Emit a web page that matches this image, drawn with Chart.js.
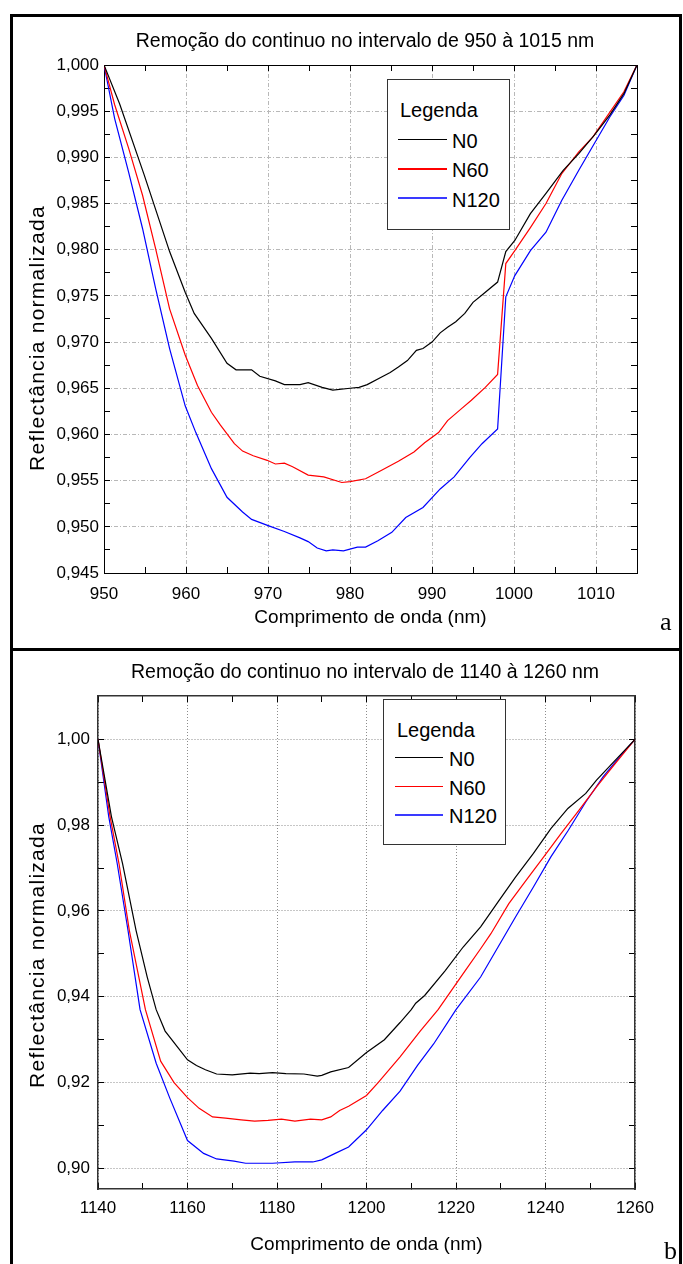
<!DOCTYPE html>
<html>
<head>
<meta charset="utf-8">
<script src="https://cdn.jsdelivr.net/npm/chart.js@4.4.1/dist/chart.umd.min.js"></script>
<style>
  html, body { margin: 0; padding: 0; background: #fff; width: 683px; height: 1264px; overflow: hidden; }
  .frame { position: absolute; border: 3px solid #000; box-sizing: border-box; }
  canvas { position: absolute; left: 0; }
  .txt { position: absolute; font-family: 'Liberation Sans', Arial, sans-serif; color: #000; white-space: nowrap; }
  .ytitle { position: absolute; font-family: 'Liberation Sans', Arial, sans-serif; font-size: 21px; line-height: 21px;
            letter-spacing: 1.25px; white-space: nowrap; transform: translate(-50%, -50%) rotate(-90deg); color: #000; }
  .panel { position: absolute; font-family: 'Liberation Serif', 'Times New Roman', serif; font-size: 26px; line-height: 26px; color: #000; }
  .legbox { position: absolute; border: 1px solid #333; box-sizing: border-box; background: #fff; }
  .legline { position: absolute; }
</style>
</head>
<body>
<div class="frame" style="left:10px; top:14px; width:672px; height:637px;"></div>
<div class="frame" style="left:10px; top:648px; width:672px; height:640px;"></div>

<canvas id="chartTop" width="683" height="651" style="top:0px; width:683px; height:651px;"></canvas>
<canvas id="chartBottom" width="683" height="613" style="top:651px; width:683px; height:613px;"></canvas>

<script>
// ---------------- DATA ----------------
const seriesNames  = ['N0', 'N60', 'N120'];
const seriesColors = ['#000000', '#ff0000', '#0000ff'];

// Chart a : 950 - 1015 nm
const topTitle  = 'Remoção do continuo no intervalo de 950 à 1015 nm';
const topWlN0   = [950, 951.9, 954.9, 958, 959.9, 961, 963.1, 965, 966.1, 968, 969, 970.9, 972, 973.9, 974.9, 976.6, 977.9, 980, 981.1, 982.1, 983.8, 984.9, 985.9, 987, 988.1, 988.9, 990, 991, 991.9, 992.9, 994, 995, 996.1, 998, 999, 1000.1, 1002, 1003.9, 1006, 1007.9, 1009.8, 1011.7, 1013.4, 1015];
const topN0     = [1.0000, 0.9958, 0.9881, 0.9798, 0.9754, 0.9731, 0.9704, 0.9677, 0.9670, 0.9670, 0.9663, 0.9658, 0.9654, 0.9654, 0.9656, 0.9651, 0.9648, 0.9650, 0.9651, 0.9654, 0.9662, 0.9667, 0.9673, 0.9680, 0.9691, 0.9693, 0.9700, 0.9710, 0.9716, 0.9722, 0.9731, 0.9743, 0.9751, 0.9765, 0.9798, 0.9810, 0.9839, 0.9861, 0.9886, 0.9904, 0.9924, 0.9946, 0.9969, 1.0000];
const topWlN60  = [950, 951.3, 953, 954.7, 956.3, 958, 959.9, 961.4, 963.1, 964.2, 965.9, 966.9, 968.2, 969.9, 970.9, 972, 973, 974.9, 976.8, 979, 980, 981.9, 983.8, 985.9, 987.8, 989.1, 990.8, 991.9, 993.6, 994.8, 996.5, 998, 999, 1000.1, 1002, 1003.9, 1005.8, 1007.9, 1009.6, 1011.7, 1013.4, 1015];
const topN60    = [1.0000, 0.9957, 0.9910, 0.9859, 0.9801, 0.9736, 0.9686, 0.9653, 0.9624, 0.9610, 0.9590, 0.9582, 0.9577, 0.9572, 0.9568, 0.9569, 0.9565, 0.9556, 0.9554, 0.9548, 0.9549, 0.9552, 0.9561, 0.9571, 0.9581, 0.9591, 0.9602, 0.9615, 0.9628, 0.9637, 0.9651, 0.9665, 0.9785, 0.9799, 0.9824, 0.9850, 0.9882, 0.9906, 0.9922, 0.9949, 0.9971, 1.0000];
const topWlN120 = [950, 951.3, 953, 954.7, 956.3, 958, 959.9, 961.2, 963.1, 965, 966.9, 968, 970.1, 972, 973.9, 974.9, 976, 977.1, 977.9, 979.2, 980.9, 981.9, 983.4, 985.1, 986.8, 988.9, 991, 992.7, 994.6, 996.1, 998, 999, 1000.1, 1002, 1003.9, 1005.8, 1007.9, 1009.8, 1011.7, 1013.4, 1015];
const topN120   = [1.0000, 0.9942, 0.9884, 0.9823, 0.9758, 0.9693, 0.9631, 0.9602, 0.9563, 0.9532, 0.9516, 0.9508, 0.9501, 0.9495, 0.9488, 0.9484, 0.9477, 0.9474, 0.9475, 0.9474, 0.9478, 0.9478, 0.9485, 0.9494, 0.9510, 0.9521, 0.9541, 0.9554, 0.9575, 0.9590, 0.9606, 0.9749, 0.9772, 0.9799, 0.9819, 0.9853, 0.9886, 0.9915, 0.9944, 0.9967, 1.0000];
const topXTicks   = [950, 955, 960, 965, 970, 975, 980, 985, 990, 995, 1000, 1005, 1010, 1015];
const topXLabels  = [950, 960, 970, 980, 990, 1000, 1010];
const topYTicks   = [0.945, 0.9475, 0.95, 0.9525, 0.955, 0.9575, 0.96, 0.9625, 0.965, 0.9675, 0.97, 0.9725, 0.975, 0.9775, 0.98, 0.9825, 0.985, 0.9875, 0.99, 0.9925, 0.995, 0.9975, 1.0];
const topYLabels  = [0.945, 0.95, 0.955, 0.96, 0.965, 0.97, 0.975, 0.98, 0.985, 0.99, 0.995, 1.0];

// Chart b : 1140 - 1260 nm
const botTitle  = 'Remoção do continuo no intervalo de 1140 à 1260 nm';
const botWlN0   = [1140, 1143, 1145.5, 1148.5, 1151, 1153, 1155, 1158, 1160, 1162, 1164, 1166.5, 1170, 1174, 1176, 1179, 1182, 1186, 1189, 1190, 1192, 1196, 1200, 1204, 1207.5, 1210, 1211, 1213, 1217.6, 1221.6, 1225.5, 1229.4, 1233.3, 1237.3, 1241.2, 1245, 1249, 1251.4, 1255.3, 1260];
const botN0     = [1.0, 0.982, 0.971, 0.9555, 0.9446, 0.937, 0.932, 0.928, 0.9253, 0.924, 0.923, 0.922, 0.9218, 0.9222, 0.9221, 0.9223, 0.9221, 0.922, 0.9215, 0.9217, 0.9225, 0.9235, 0.927, 0.930, 0.934, 0.937, 0.9385, 0.9403, 0.9461, 0.9516, 0.9563, 0.9621, 0.9679, 0.9734, 0.9792, 0.9839, 0.9874, 0.9905, 0.9948, 1.0];
const botWlN60  = [1140, 1142.7, 1144.7, 1147, 1150.6, 1154, 1157, 1160, 1162.6, 1165.6, 1168.5, 1172, 1175, 1178, 1181, 1184, 1187.5, 1190, 1192, 1194, 1196, 1200, 1202.6, 1207.5, 1212, 1216, 1221.6, 1225.5, 1227.8, 1231.8, 1235.7, 1239.6, 1243.5, 1247.5, 1251.4, 1255.3, 1260];
const botN60    = [1.0, 0.982, 0.971, 0.9555, 0.937, 0.925, 0.920, 0.9165, 0.914, 0.912, 0.9117, 0.9113, 0.911, 0.9112, 0.9115, 0.911, 0.9115, 0.9113, 0.912, 0.9135, 0.9145, 0.917, 0.920, 0.926, 0.932, 0.937, 0.9454, 0.9512, 0.9547, 0.9617, 0.9672, 0.9726, 0.9781, 0.9835, 0.9889, 0.9940, 1.0];
const botWlN120 = [1140, 1142.4, 1144.3, 1146.7, 1149.4, 1153, 1156, 1160, 1163.6, 1166.5, 1170.4, 1173, 1179, 1184, 1188, 1190, 1193, 1196, 1200, 1203.6, 1207.5, 1211.4, 1215, 1220, 1225.5, 1229.4, 1233.3, 1237.3, 1241.2, 1245.1, 1249, 1252.9, 1256.9, 1260];
const botN120   = [1.0, 0.982, 0.971, 0.9555, 0.937, 0.9245, 0.9165, 0.9065, 0.9035, 0.9022, 0.9017, 0.9012, 0.9012, 0.9015, 0.9015, 0.902, 0.9035, 0.905, 0.909, 0.9135, 0.918, 0.924, 0.929, 0.937, 0.9446, 0.9516, 0.9586, 0.9656, 0.9726, 0.9788, 0.9854, 0.9913, 0.9963, 1.0];
const botXTicks  = [1140, 1150, 1160, 1170, 1180, 1190, 1200, 1210, 1220, 1230, 1240, 1250, 1260];
const botXLabels = [1140, 1160, 1180, 1200, 1220, 1240, 1260];
const botYTicks  = [0.90, 0.91, 0.92, 0.93, 0.94, 0.95, 0.96, 0.97, 0.98, 0.99, 1.00];
const botYLabels = [0.90, 0.92, 0.94, 0.96, 0.98, 1.00];

const xTitleText = 'Comprimento de onda (nm)';
const yTitleText = 'Reflectância normalizada';
const legendTitle = 'Legenda';

// ---------------- HELPERS ----------------
const FONT = "'Liberation Sans', Arial, sans-serif";
const near = (v, list) => list.some(t => Math.abs(t - v) < 1e-7);
const fmt = (v, d) => v.toFixed(d).replace('.', ',');

function makeDataset(xs, ys, i) {
  return {
    label: seriesNames[i],
    data: xs.map((x, k) => ({ x: x, y: ys[k] })),
    borderColor: seriesColors[i],
    borderWidth: 1.2,
    pointRadius: 0,
    pointHoverRadius: 0,
    fill: false,
    tension: 0
  };
}

function fixedSize(prop, size) {
  return (scale) => { scale[prop] = size; };
}

function buildChart(canvasId, cfg) {
  const setTicks = (list) => (scale) => { scale.ticks = list.map(v => ({ value: v })); };
  const gridMajor = (labels) => (ctx) => (ctx.tick && near(ctx.tick.value, labels)) ? cfg.gridColor : 'rgba(0,0,0,0)';
  const commonGrid = {
    tickLength: -6, tickColor: '#000', tickWidth: 1, tickBorderDash: [], lineWidth: 1
  };
  // in Chart.js v4 the dash of the grid lines is read from border.dash
  const border = { display: true, color: cfg.borderColor, width: cfg.borderWidth, dash: cfg.gridDash };
  return new Chart(document.getElementById(canvasId), {
    type: 'line',
    data: { datasets: cfg.datasets },
    options: {
      responsive: false, animation: false, devicePixelRatio: 1,
      layout: { padding: { left: cfg.padLeft, right: 0, top: 0, bottom: 0 } },
      plugins: {
        legend: { display: false },
        tooltip: { enabled: false },
        title: {
          display: true, text: cfg.title, color: '#000',
          font: { family: FONT, size: 19.5, weight: 'normal', lineHeight: 1.2 },
          padding: { top: cfg.titlePadTop, bottom: cfg.titlePadBottom }
        }
      },
      scales: {
        x: {
          type: 'linear', position: 'bottom', min: cfg.xMin, max: cfg.xMax,
          afterBuildTicks: setTicks(cfg.xTicks),
          afterFit: fixedSize('height', cfg.xHeight),
          grid: Object.assign({}, commonGrid, { color: gridMajor(cfg.xLabels) }),
          border: border,
          ticks: {
            autoSkip: false, maxRotation: 0, minRotation: 0, padding: cfg.xLabelPad, color: '#000',
            font: { family: FONT, size: 17, lineHeight: 1.2 },
            callback: (v) => near(v, cfg.xLabels) ? String(v) : ''
          },
          title: {
            display: true, text: xTitleText, color: '#000',
            font: { family: FONT, size: 19, lineHeight: 1.2 },
            padding: { top: 0, bottom: cfg.xTitlePad }
          }
        },
        x2: {
          type: 'linear', axis: 'x', position: 'top', min: cfg.xMin, max: cfg.xMax,
          afterBuildTicks: setTicks(cfg.xTicks),
          afterFit: fixedSize('height', 6),
          grid: Object.assign({}, commonGrid, { drawOnChartArea: false }),
          border: border,
          ticks: { display: false }
        },
        y: {
          type: 'linear', position: 'left', min: cfg.yMin, max: cfg.yMax,
          afterBuildTicks: setTicks(cfg.yTicks),
          afterFit: fixedSize('width', cfg.yWidth),
          grid: Object.assign({}, commonGrid, { color: gridMajor(cfg.yLabels) }),
          border: border,
          ticks: {
            autoSkip: false, padding: cfg.yLabelPad, color: '#000',
            font: { family: FONT, size: 17, lineHeight: 1.2 },
            callback: (v) => near(v, cfg.yLabels) ? fmt(v, cfg.yDecimals) : ''
          }
        },
        y2: {
          type: 'linear', axis: 'y', position: 'right', min: cfg.yMin, max: cfg.yMax,
          afterBuildTicks: setTicks(cfg.yTicks),
          afterFit: fixedSize('width', cfg.y2Width),
          grid: Object.assign({}, commonGrid, { drawOnChartArea: false }),
          border: border,
          ticks: { display: false }
        }
      }
    }
  });
}

// ---------------- CHART a ----------------
buildChart('chartTop', {
  title: topTitle,
  datasets: [makeDataset(topWlN0, topN0, 0), makeDataset(topWlN60, topN60, 1), makeDataset(topWlN120, topN120, 2)],
  padLeft: 47, titlePadTop: 29.8, titlePadBottom: 5.8,
  xMin: 950, xMax: 1015, xTicks: topXTicks, xLabels: topXLabels, xHeight: 78, xLabelPad: 16.8, xTitlePad: 22,
  yMin: 0.945, yMax: 1.0, yTicks: topYTicks, yLabels: topYLabels, yDecimals: 3, yWidth: 57, y2Width: 46, yLabelPad: 11,
  gridColor: '#b8b8b8', gridDash: [4, 2, 1, 2], borderColor: '#000', borderWidth: 1
});

// ---------------- CHART b ----------------
buildChart('chartBottom', {
  title: botTitle,
  datasets: [makeDataset(botWlN0, botN0, 0), makeDataset(botWlN60, botN60, 1), makeDataset(botWlN120, botN120, 2)],
  padLeft: 47, titlePadTop: 9.5, titlePadBottom: 6.1,
  xMin: 1140, xMax: 1260, xTicks: botXTicks, xLabels: botXLabels, xHeight: 75, xLabelPad: 15.5, xTitlePad: 8.1,
  yMin: 0.8952, yMax: 1.0101, yTicks: botYTicks, yLabels: botYLabels, yDecimals: 2, yWidth: 51, y2Width: 48, yLabelPad: 14,
  gridColor: '#8c8c8c', gridDash: [1, 2], borderColor: '#333', borderWidth: 1.5
});

// ---------------- HTML overlays: y titles, legends, panel letters ----------------
function addText(cls, text, styles) {
  const d = document.createElement('div');
  d.className = cls;
  d.textContent = text;
  Object.assign(d.style, styles);
  document.body.appendChild(d);
  return d;
}

addText('ytitle', yTitleText, { left: '36px', top: '338px' });
addText('ytitle', yTitleText, { left: '36px', top: '955px' });

function makeLegend(box, titlePos, rows) {
  addText('legbox', '', { left: box.left + 'px', top: box.top + 'px', width: box.width + 'px', height: box.height + 'px' });
  // text with font-size 20 and line-height 20: baseline ~17px below top
  addText('txt', legendTitle, { left: titlePos.left + 'px', top: (titlePos.baseline - 17) + 'px', fontSize: '20px', lineHeight: '20px' });
  const widths = [1, 1.5, 2];
  const colors = ['#000000', '#ff0000', '#3a3aff'];
  seriesNames.forEach((name, i) => {
    const y = rows.firstY + i * rows.step;
    addText('legline', '', { left: rows.lineLeft + 'px', top: (y - widths[i] / 2) + 'px', width: rows.lineWidth + 'px', height: widths[i] + 'px', background: colors[i] });
    addText('txt', name, { left: rows.textLeft + 'px', top: (y + 8.4 - 17) + 'px', fontSize: '20px', lineHeight: '20px' });
  });
}

makeLegend({ left: 387, top: 79, width: 123, height: 151 }, { left: 400, baseline: 117 },
           { firstY: 139.3, step: 29.5, lineLeft: 398, lineWidth: 49, textLeft: 452 });
makeLegend({ left: 383, top: 699, width: 123, height: 146 }, { left: 397, baseline: 736.7 },
           { firstY: 757.7, step: 28.6, lineLeft: 395, lineWidth: 48, textLeft: 449 });

addText('panel', 'a', { left: '660px', top: (631 - 21.8) + 'px' });
addText('panel', 'b', { left: '664px', top: (1260 - 21.8) + 'px' });
</script>
</body>
</html>
